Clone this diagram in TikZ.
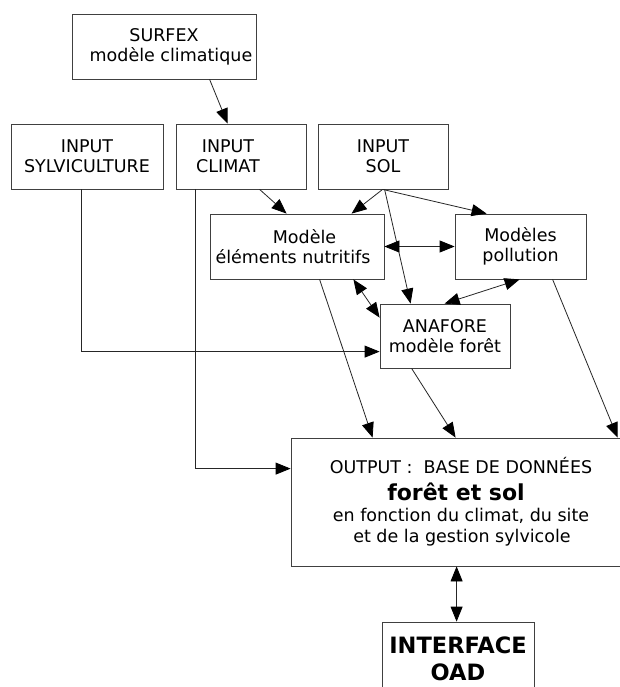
\documentclass[tikz,border=0pt]{standalone}
\usepackage{fontspec}
\setmainfont{DejaVu Sans}
\usetikzlibrary{arrows.meta,calc}
\begin{document}
\begin{tikzpicture}[x=1pt,y=-1pt,
  box/.style={draw=black!75, line width=0.8pt, rectangle, inner sep=0pt, align=center, font=\fontsize{17.5}{20}\selectfont},
  conn/.style={draw=black!85, line width=0.8pt, -{Triangle[length=15pt,width=12pt,color=black]}},
  biconn/.style={draw=black!85, line width=0.8pt, {Triangle[length=15pt,width=12pt,color=black]}-{Triangle[length=15pt,width=12pt,color=black]}}]
\useasboundingbox (0,0) rectangle (619,687);
\fill[white] (0,0) rectangle (619,687);

\node[box, minimum width=184pt, minimum height=65pt] (surfex) at (164,46.5) {SURFEX\\\hspace*{14pt}modèle climatique};
\node[box, minimum width=152pt, minimum height=65pt] (sylv) at (87,156.5) {INPUT\\SYLVICULTURE};
\node[box, minimum width=130pt, minimum height=65pt] (climat) at (241,156.5) {INPUT\hspace*{26pt}\\CLIMAT\hspace*{26pt}};
\node[box, minimum width=130pt, minimum height=65pt] (sol) at (383,156.5) {INPUT\\SOL};
\node[box, minimum width=174pt, minimum height=65pt] (nutr) at (297,246.5) {\hspace*{15pt}Modèle\\éléments nutritifs\hspace*{8pt}};
\node[box, minimum width=131pt, minimum height=65pt] (poll) at (520.5,246.5) {Modèles\\pollution};
\node[box, minimum width=130pt, minimum height=64pt] (anafore) at (445,336) {ANAFORE\\modèle forêt};
\node[box, minimum width=330pt, minimum height=128pt, font=\fontsize{17.5}{21}\selectfont] (output) at (456,502)
  {\hspace*{10pt}OUTPUT :\ \ BASE DE DONNÉES\\[6pt]{\fontsize{22}{26}\selectfont\bfseries forêt et sol\hspace*{16pt}}\\\hspace*{10pt}en fonction du climat, du site\\\hspace*{12pt}et de la gestion sylvicole};
\node[box, minimum width=152pt, minimum height=73pt, font=\fontsize{22.5}{27}\selectfont\bfseries] (oad) at (458,658.5) {INTERFACE\\OAD};

\draw[conn] ($(surfex.south west)+(138,0)$) -- ($(climat.north west)+(52,0)$);
\draw[conn] ($(climat.south west)+(84,0)$) -- ($(nutr.north west)+(77,0)$);
\draw[conn] ($(sol.south west)+(65,0)$) -- ($(nutr.north west)+(142,0)$);
\draw[conn] ($(sol.south west)+(65,0)$) -- ($(poll.north west)+(32,0)$);
\draw[conn] ($(sol.south west)+(67,0)$) -- ($(anafore.north west)+(31,0)$);
\draw[biconn] (nutr.east) -- (poll.west);
\draw[biconn] ($(nutr.south east)+(-31,0)$) -- ($(anafore.north west)+(0,14)$);
\draw[biconn] ($(poll.south west)+(65,0)$) -- ($(anafore.north west)+(65,0)$);
\draw[conn] ($(nutr.south west)+(110,0)$) -- ($(output.north west)+(82,0)$);
\draw[conn] ($(anafore.south west)+(32,0)$) -- ($(output.north west)+(165,0)$);
\draw[conn] ($(poll.south west)+(98,0)$) -- ($(output.north west)+(327,0)$);
\draw[conn] ($(sylv.south west)+(71,0)$) |- ($(anafore.north west)+(0,48)$);
\draw[conn] ($(climat.south west)+(20,0)$) |- ($(output.north west)+(0,31)$);
\draw[biconn] ($(output.south west)+(166,0)$) -- ($(oad.north west)+(75,0)$);
\end{tikzpicture}
\end{document}
